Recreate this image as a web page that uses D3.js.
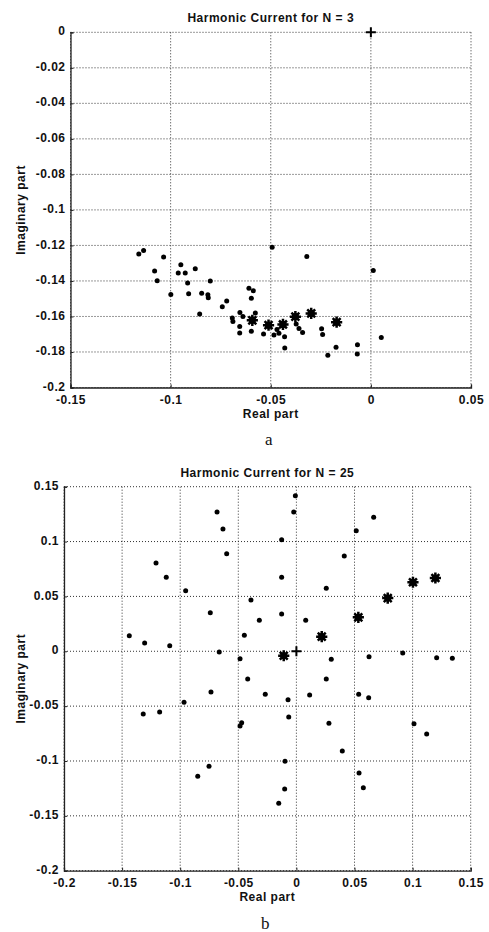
<!DOCTYPE html>
<html>
<head>
<meta charset="utf-8">
<script src="https://cdn.jsdelivr.net/npm/d3@7"></script>
<style>
  body { margin: 0; background: #fff; }
  svg { display: block; }
  text { font-family: "Liberation Sans", Arial, sans-serif; font-weight: bold; fill: #111; letter-spacing: 0.5px; }
  .caption { font-family: "Liberation Serif", "Times New Roman", serif; font-weight: normal; font-size: 17px; letter-spacing: 0; }
</style>
</head>
<body>
<svg width="489" height="932"></svg>
<script>
// panel a : N = 3
var dotsReA = [-0.1159, -0.1135, -0.1035, -0.1080, -0.1067, -0.0999, -0.0949, -0.0962, -0.0927, -0.0915,
               -0.0910, -0.0877, -0.0845, -0.0802, -0.0814, -0.0812, -0.0855, -0.0742, -0.0720, -0.0692,
               -0.0689, -0.0654, -0.0655, -0.0655, -0.0639, -0.0609, -0.0587, -0.0597, -0.0577, -0.0597,
               -0.0536, -0.0493, -0.0484, -0.0469, -0.0459, -0.0431, -0.0430, -0.0373, -0.0359, -0.0341,
               -0.0320, -0.0246, -0.0241, -0.0215, -0.0174, -0.0067, -0.0068, 0.0012, 0.0052];
var dotsImA = [-0.1249, -0.1228, -0.1265, -0.1344, -0.1399, -0.1476, -0.1309, -0.1355, -0.1355, -0.1412,
               -0.1472, -0.1331, -0.1470, -0.1400, -0.1478, -0.1494, -0.1586, -0.1545, -0.1513, -0.1609,
               -0.1628, -0.1577, -0.1656, -0.1693, -0.1600, -0.1441, -0.1455, -0.1497, -0.1580, -0.1683,
               -0.1699, -0.1211, -0.1704, -0.1674, -0.1695, -0.1714, -0.1777, -0.1642, -0.1668, -0.1690,
               -0.1262, -0.1669, -0.1702, -0.1818, -0.1774, -0.1759, -0.1812, -0.1341, -0.1718];
var starsReA = [-0.0592, -0.0511, -0.0439, -0.0377, -0.0298, -0.0171];
var starsImA = [-0.1622, -0.1649, -0.1645, -0.1601, -0.1583, -0.1632];
var xTicksA = [-0.15, -0.1, -0.05, 0, 0.05];
var yTicksA = [-0.2, -0.18, -0.16, -0.14, -0.12, -0.1, -0.08, -0.06, -0.04, -0.02, 0];

// panel b : N = 25
var dotsReB = [-0.0009, -0.0683, -0.0023, 0.0665, -0.0632, 0.0515, -0.0127, -0.0600, 0.0412, -0.1208,
               -0.1120, -0.0127, -0.0953, 0.0257, -0.0391, -0.0741, -0.0127, -0.0319, 0.0080, -0.1438,
               -0.1306, -0.1090, -0.0448, -0.0664, -0.0485, 0.0300, 0.0625, 0.0915, 0.1207, 0.1342,
               -0.0419, 0.0257, -0.0735, -0.0268, 0.0114, 0.0536, 0.0622, -0.0072, -0.0967, -0.1318,
               -0.1177, -0.0066, -0.0471, -0.0485, 0.0280, 0.1012, 0.1121, 0.0395, -0.0098, -0.0752,
               0.0539, -0.0849, 0.0576, -0.0101, -0.0152];
var dotsImB = [0.1418, 0.1269, 0.1270, 0.1221, 0.1114, 0.1099, 0.1017, 0.0889, 0.0868, 0.0804,
               0.0674, 0.0674, 0.0552, 0.0574, 0.0467, 0.0351, 0.0340, 0.0282, 0.0282, 0.0142,
               0.0075, 0.0051, 0.0145, -0.0007, -0.0068, -0.0073, -0.0050, -0.0016, -0.0059, -0.0064,
               -0.0253, -0.0253, -0.0372, -0.0392, -0.0399, -0.0392, -0.0423, -0.0442, -0.0465, -0.0572,
               -0.0554, -0.0599, -0.0651, -0.0681, -0.0657, -0.0660, -0.0754, -0.0909, -0.1003, -0.1049,
               -0.1110, -0.1140, -0.1244, -0.1256, -0.1386];
var starsReB = [0.1003, 0.1196, 0.0786, 0.0533, 0.0218, -0.0109];
var starsImB = [0.0629, 0.0668, 0.0485, 0.0309, 0.0133, -0.0041];
var xTicksB = [-0.2, -0.15, -0.1, -0.05, 0, 0.05, 0.1, 0.15];
var yTicksB = [-0.2, -0.15, -0.1, -0.05, 0, 0.05, 0.1, 0.15];

var svg = d3.select('svg');

function fmt(d) {
    if (Math.abs(d) < 1e-9) return '0';
    return String(+d.toFixed(3));
}

// 8-ray asterisk like matlab '*'
function starPath(r) {
    var p = '';
    for (var k = 0; k < 4; k++) {
        var a = k * Math.PI / 4;
        var dx = r * Math.cos(a), dy = r * Math.sin(a);
        p += 'M' + (-dx) + ',' + (-dy) + 'L' + dx + ',' + dy;
    }
    return p;
}

function drawPanel(opt) {
    var x = d3.scaleLinear().domain(opt.xDomain).range([opt.left, opt.right]);
    var y = d3.scaleLinear().domain(opt.yDomain).range([opt.bottom, opt.top]);
    var g = svg.append('g');

    // dotted grid
    g.append('g').selectAll('line.gx')
        .data(opt.xTicks).enter().append('line')
        .attr('x1', function(d){return x(d);}).attr('x2', function(d){return x(d);})
        .attr('y1', opt.top).attr('y2', opt.bottom)
        .attr('stroke', '#333').attr('stroke-width', 1).attr('stroke-dasharray', '1,2');
    g.append('g').selectAll('line.gy')
        .data(opt.yTicks).enter().append('line')
        .attr('y1', function(d){return y(d);}).attr('y2', function(d){return y(d);})
        .attr('x1', opt.left).attr('x2', opt.right)
        .attr('stroke', '#333').attr('stroke-width', 1).attr('stroke-dasharray', '1,2');

    var xAxis = d3.axisBottom(x).tickValues(opt.xTicks).tickFormat(fmt).tickSize(-3).tickPadding(4);
    var yAxis = d3.axisLeft(y).tickValues(opt.yTicks).tickFormat(fmt).tickSize(-3).tickPadding(5);

    var gx = g.append('g').attr('transform', 'translate(0,' + opt.bottom + ')').call(xAxis);
    var gy = g.append('g').attr('transform', 'translate(' + opt.left + ',0)').call(yAxis);
    [gx, gy].forEach(function(a) {
        a.select('.domain').attr('stroke', '#222').attr('stroke-width', 1.3);
        a.selectAll('.tick line').attr('stroke', '#222');
        a.selectAll('text').attr('font-size', 12).attr('font-family', null).attr('fill', '#111');
    });
    gx.selectAll('text').attr('dy', '1.06em');
    gy.selectAll('text').attr('dy', '0.22em');

    // title and axis labels
    g.append('text').attr('x', (opt.left + opt.right) / 2).attr('y', opt.top - 10)
        .attr('text-anchor', 'middle').attr('font-size', 12).text(opt.title);
    g.append('text').attr('x', (opt.left + opt.right) / 2).attr('y', opt.bottom + 30)
        .attr('text-anchor', 'middle').attr('font-size', 12).text('Real part');
    g.append('text')
        .attr('transform', 'translate(25,' + (opt.top + opt.bottom) / 2 + ') rotate(-90)')
        .attr('text-anchor', 'middle').attr('font-size', 12).text('Imaginary part');

    // small markers
    g.append('g').selectAll('circle')
        .data(d3.range(opt.dotsRe.length)).enter().append('circle')
        .attr('cx', function(i){return x(opt.dotsRe[i]);})
        .attr('cy', function(i){return y(opt.dotsIm[i]);})
        .attr('r', 2.5).attr('fill', '#000');

    // big star markers
    var st = g.append('g').selectAll('g.star')
        .data(d3.range(opt.starsRe.length)).enter().append('g')
        .attr('transform', function(i){return 'translate(' + x(opt.starsRe[i]) + ',' + y(opt.starsIm[i]) + ')';});
    st.append('path').attr('d', starPath(5.6)).attr('stroke', '#000').attr('stroke-width', 2.5);
    st.append('circle').attr('r', 3.6).attr('fill', '#000');

    // origin cross
    g.append('path').attr('d', 'M-5,0L5,0M0,-5L0,5')
        .attr('transform', 'translate(' + x(0) + ',' + y(0) + ')')
        .attr('stroke', '#000').attr('stroke-width', 2);

    g.append('text').attr('class', 'caption')
        .attr('x', (opt.left + opt.right) / 2 - 2).attr('y', opt.captionY)
        .attr('text-anchor', 'middle').text(opt.caption);
}

drawPanel({
    title: 'Harmonic Current for N = 3', caption: 'a',
    xDomain: [-0.15, 0.05], yDomain: [-0.2, 0],
    left: 70.5, right: 471, top: 32.3, bottom: 387.5, captionY: 445,
    xTicks: xTicksA, yTicks: yTicksA,
    dotsRe: dotsReA, dotsIm: dotsImA, starsRe: starsReA, starsIm: starsImA
});

drawPanel({
    title: 'Harmonic Current for N = 25', caption: 'b',
    xDomain: [-0.2, 0.15], yDomain: [-0.2, 0.15],
    left: 64, right: 470.7, top: 486.7, bottom: 870.7, captionY: 929,
    xTicks: xTicksB, yTicks: yTicksB,
    dotsRe: dotsReB, dotsIm: dotsImB, starsRe: starsReB, starsIm: starsImB
});
</script>
</body>
</html>
